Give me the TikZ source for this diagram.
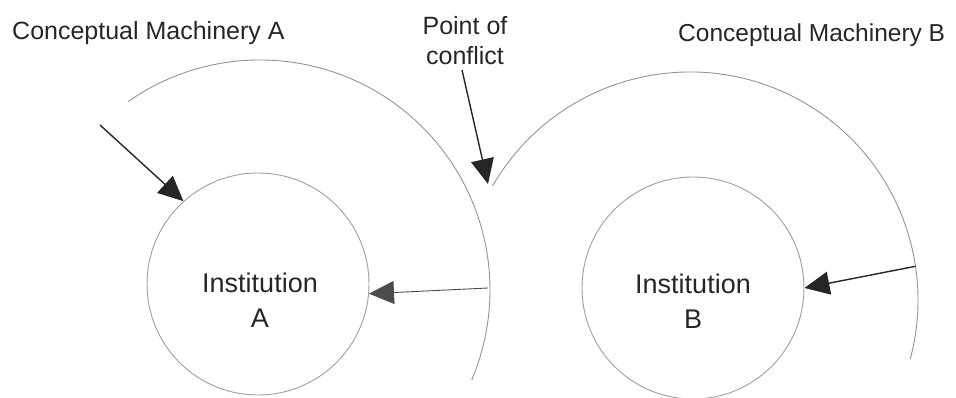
\documentclass[tikz,border=0pt]{standalone}
\usepackage{fontspec}
\setmainfont{Liberation Sans}
\usetikzlibrary{arrows.meta}
\begin{document}
\begin{tikzpicture}[x=1pt,y=1pt,
  ring/.style={draw=black!42,line width=0.9pt},
  inner/.style={circle,draw=black!38,line width=0.9pt,minimum size=222pt,inner sep=0pt},
  pointer/.style={draw=black!85,line width=1.4pt,-{Triangle[length=25pt,width=23pt]}},
  title/.style={text=black!85,font=\fontsize{25}{30}\selectfont,inner sep=0pt},
  inst/.style={text=black!85,font=\fontsize{27}{35}\selectfont,align=center,inner sep=0pt}]
\useasboundingbox (0,0) rectangle (956,398);

% centres of the two outer arcs
\coordinate (cA) at (260,108);
\coordinate (cB) at (690,98);

% outer arcs (conceptual machinery)
\draw[ring] (cA) ++(125:230pt) arc[start angle=125,end angle=-23,radius=230pt];
\draw[ring] (cB) ++(150:228pt) arc[start angle=150,end angle=-15,radius=228pt];

% inner circles (institutions)
\node[inner] (instA) at (258,114) {};
\node[inner] (instB) at (693,110) {};
\node[inst] (labA) at (260,98) {Institution\\A};
\node[inst] (labB) at (693,97) {Institution\\B};

% headings
\node[title,anchor=base west] (machA) at (12,358) {Conceptual Machinery A};
\node[title,anchor=base west,font=\fontsize{24.5}{30}\selectfont] (machB) at (678,356) {Conceptual Machinery B};
\node[title,align=center] (conflictlbl) at (465,357) {Point of\\conflict};

% arrow end points
\coordinate (a1) at (100,273);
\coordinate (p2) at (462,328);
\coordinate (tip2) at (488,214);
\coordinate (a3) at ([shift={(cA)}]0.5:228);
\coordinate (a4) at ([shift={(cB)}]8.5:228);

\draw[pointer] (a1) -- (instA.132);
\draw[pointer] (p2) -- (tip2);
\draw[pointer,line width=0.9pt,draw=black!70] (a3) -- (instA.-5.6);
\draw[pointer] (a4) -- (instB.0);
\end{tikzpicture}
\end{document}
